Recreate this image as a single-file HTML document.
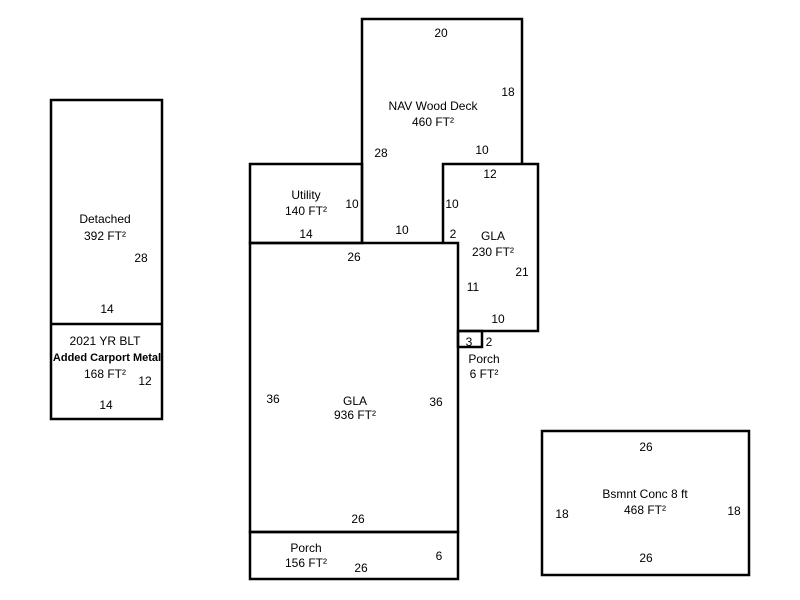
<!DOCTYPE html>
<html><head><style>body{margin:0;background:#fff}svg{display:block}text{font-family:"Liberation Sans",Arial,sans-serif;font-size:12px;fill:#000;text-anchor:middle}</style></head><body>
<svg width="800" height="600" viewBox="0 0 800 600">
<g fill="none" stroke="#000" stroke-width="2.5">
<rect x="51" y="100" width="111" height="319"/>
<line x1="51" y1="324" x2="162" y2="324"/>
<rect x="250" y="164" width="112" height="79"/>
<polyline points="362,243 362,19 522,19 522,164"/>
<polyline points="443,243 443,164 538,164 538,331 458,331"/>
<rect x="250" y="243" width="208" height="289"/>
<rect x="250" y="532" width="208" height="47"/>
<rect x="458" y="331" width="24" height="16"/>
<rect x="542" y="431" width="207" height="144"/>
</g>
<text x="105" y="223">Detached</text><text x="105" y="240">392 FT²</text>
<text x="141" y="262">28</text><text x="107" y="313">14</text>
<text x="105" y="345">2021 YR BLT</text>
<text x="107" y="361" style="font-weight:bold;font-size:11px">Added Carport Metal</text>
<text x="105" y="378">168 FT²</text><text x="145" y="385">12</text><text x="106" y="409">14</text>
<text x="306" y="199">Utility</text><text x="306" y="215">140 FT²</text>
<text x="352" y="208">10</text><text x="306" y="238">14</text>
<text x="441" y="37">20</text><text x="508" y="96">18</text>
<text x="433" y="110">NAV Wood Deck</text><text x="433" y="126">460 FT²</text>
<text x="381" y="157">28</text><text x="482" y="154">10</text>
<text x="490" y="178">12</text><text x="452" y="208">10</text><text x="402" y="234">10</text>
<text x="453" y="238">2</text><text x="493" y="240">GLA</text><text x="493" y="256">230 FT²</text>
<text x="522" y="276">21</text><text x="473" y="291">11</text><text x="498" y="323">10</text>
<text x="469" y="346">3</text><text x="489" y="346">2</text>
<text x="484" y="363">Porch</text><text x="484" y="378">6 FT²</text>
<text x="354" y="261">26</text><text x="273" y="403">36</text><text x="436" y="406">36</text>
<text x="355" y="405">GLA</text><text x="355" y="419">936 FT²</text>
<text x="358" y="523">26</text>
<text x="306" y="552">Porch</text><text x="306" y="567">156 FT²</text>
<text x="439" y="560">6</text><text x="361" y="572">26</text>
<text x="646" y="451">26</text><text x="645" y="498">Bsmnt Conc 8 ft</text><text x="645" y="514">468 FT²</text>
<text x="562" y="518">18</text><text x="734" y="515">18</text><text x="646" y="562">26</text>
</svg>
</body></html>
